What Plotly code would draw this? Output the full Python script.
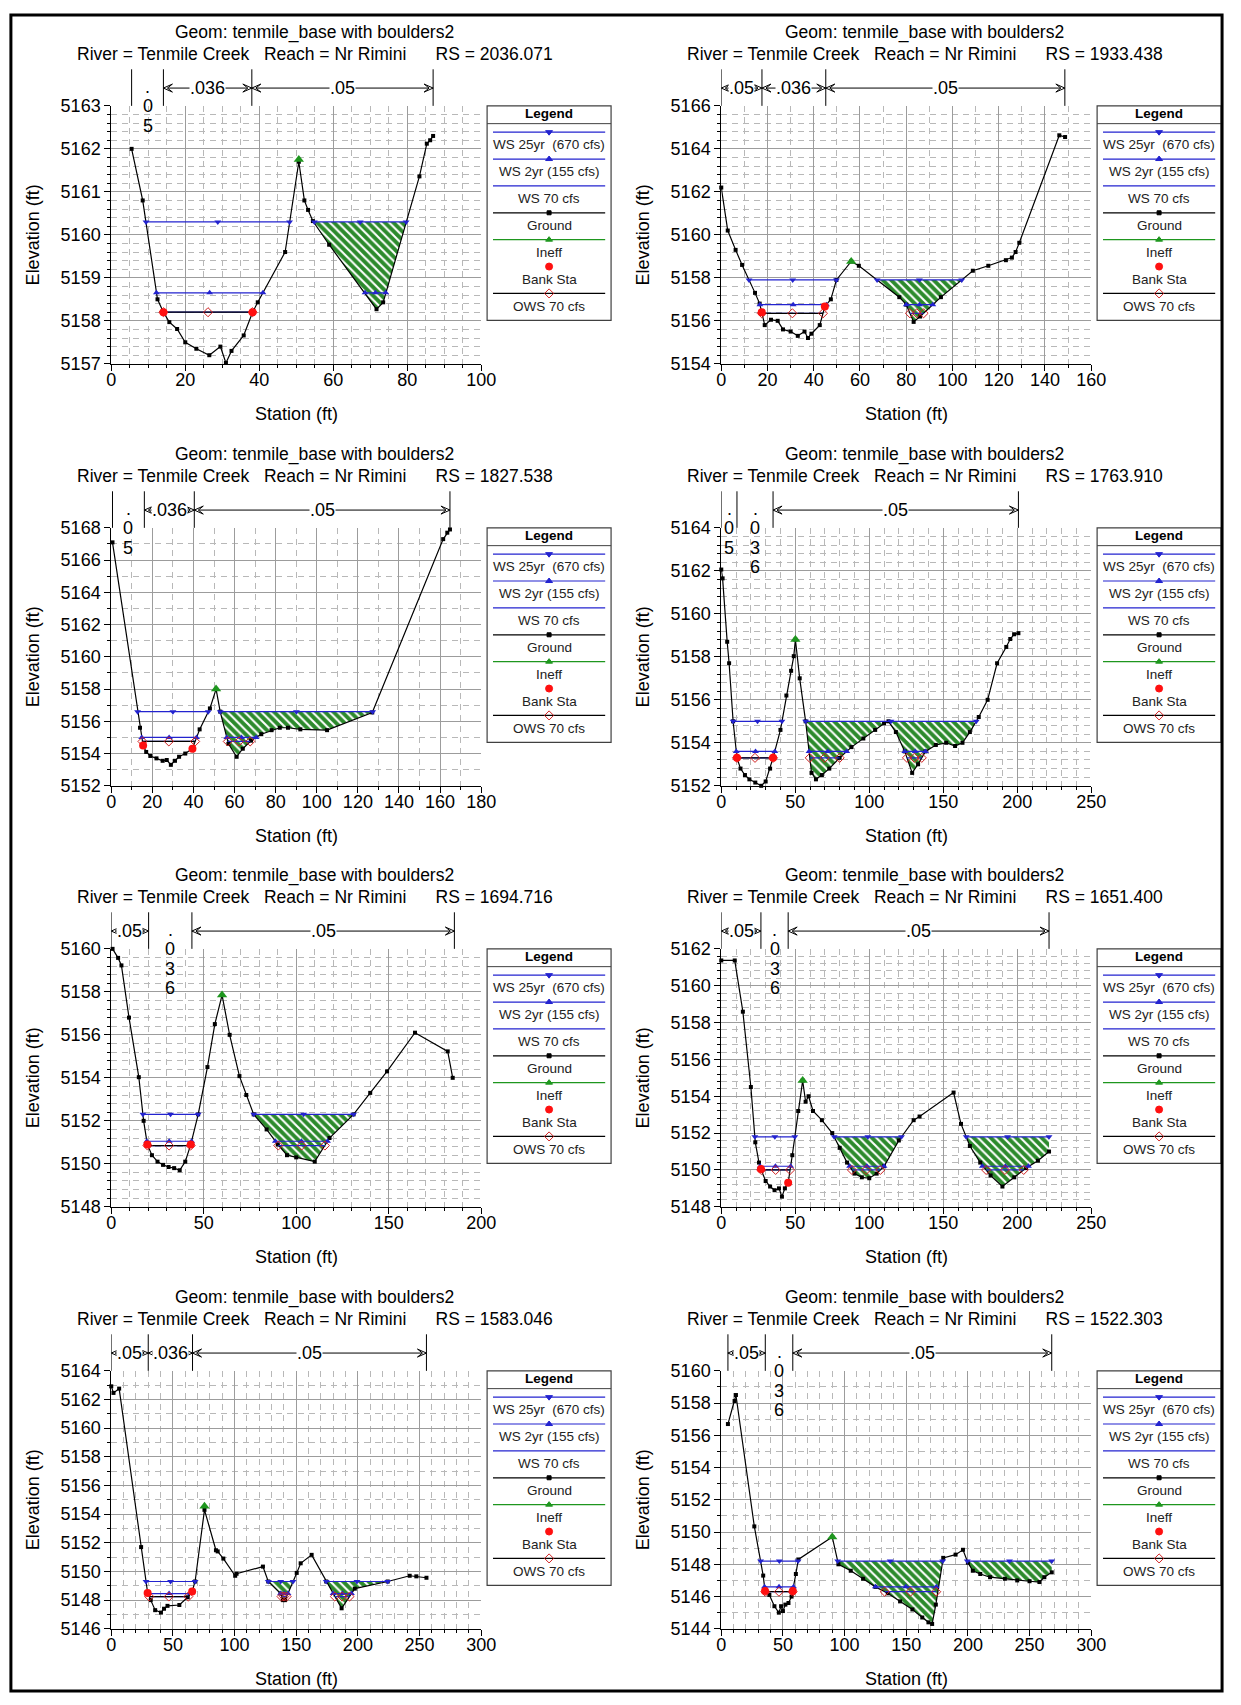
import numpy as np
import plotly.graph_objects as go

W, H = 1241, 1705
FONT = "Liberation Sans, Arial, sans-serif"

# ---------------- text ----------------
geom_title = "Geom: tenmile_base with boulders2"
river_name = "Tenmile Creek"
reach_name = "Nr Rimini"
rs_values = ["2036.071", "1933.438", "1827.538", "1763.910",
             "1694.716", "1651.400", "1583.046", "1522.303"]
legend_labels = ["WS 25yr\u00a0\u00a0(670 cfs)", "WS 2yr (155 cfs)", "WS 70 cfs",
                 "Ground", "Ineff", "Bank Sta", "OWS 70 cfs"]
n_values = [".05", ".036", ".05"]

# ---------------- axes ----------------
x_max = [100, 160, 180, 250, 200, 250, 300, 300]
x_dtick = [20, 20, 20, 50, 50, 50, 50, 50]
x_minor = [5, 10, 10, 10, 10, 10, 10, 10]
y_min = [5157, 5154, 5152, 5152, 5148, 5148, 5146, 5144]
y_max = [5163, 5166, 5168, 5164, 5160, 5162, 5164, 5160]
y_dtick = [1, 2, 2, 2, 2, 2, 2, 2]
y_minor = [0.2, 0.4, 1, 0.4, 0.4, 0.4, 1, 1]

# ---------------- RS 2036.071 ----------------
p1_sta = [5.5, 8.5, 12.5, 14.1, 15.7, 17.8, 20.0, 23.0, 26.5, 29.5, 31.0, 32.5, 35.8, 38.2, 39.6,
          47.0, 50.7, 52.2, 53.2, 54.5, 58.9, 71.7, 73.5, 83.3, 85.3, 86.2, 87.0]
p1_elev = [5162.0, 5160.8, 5158.5, 5158.2, 5157.97, 5157.81, 5157.5, 5157.35, 5157.2, 5157.4, 5157.02,
           5157.3, 5157.66, 5158.2, 5158.43, 5159.6, 5161.7, 5160.8, 5160.58, 5160.32, 5159.77,
           5158.27, 5158.43, 5161.36, 5162.12, 5162.2, 5162.3]
p1_ws = [5160.3, 5158.65, 5158.2]
p1_ws25_seg = [(9.4, 48.2), (54.9, 79.7)]
p1_ws2_seg = [(12.2, 41.0), (68.6, 74.2)]
p1_ws70_seg = [(14.1, 38.2)]
p1_ineff = [(50.7, 5161.75)]
p1_bank = [14.1, 38.2]
p1_fill = [(54.9, 79.7)]
p1_n_sta = [5.5, 14.1, 38.0, 87.0]

# ---------------- RS 1933.438 ----------------
p2_sta = [0.0, 2.8, 6.2, 9.0, 14.6, 16.6, 17.5, 18.8, 21.5, 24.4, 26.7, 30.0, 33.1, 36.0, 37.5, 39.0,
          42.6, 44.8, 47.4, 49.8, 56.2, 59.5, 77.0, 80.0, 83.2, 86.0, 95.0, 108.8, 115.5, 123.1, 125.7,
          127.3, 128.9, 146.2, 148.7]
p2_elev = [5162.2, 5160.2, 5159.3, 5158.6, 5157.3, 5156.8, 5156.4, 5155.8, 5156.05, 5156.0, 5155.6,
           5155.5, 5155.3, 5155.5, 5155.2, 5155.4, 5155.8, 5156.66, 5157.0, 5157.9, 5158.76, 5158.56,
           5157.1, 5156.75, 5155.95, 5156.2, 5157.1, 5158.33, 5158.56, 5158.82, 5158.94, 5159.2,
           5159.63, 5164.63, 5164.55]
p2_ws = [5157.9, 5156.75, 5156.35]
p2_ws25_seg = [(12.0, 49.8), (67.4, 104.0)]
p2_ws2_seg = [(16.7, 45.5), (80.0, 91.5)]
p2_ws70_seg = [(17.5, 44.0), (81.6, 87.5)]
p2_ineff = [(56.2, 5158.76)]
p2_bank = [17.5, 44.8]
p2_fill = [(67.4, 104.0)]
p2_n_sta = [0.0, 17.6, 45.2, 148.6]

# ---------------- RS 1827.538 ----------------
p3_sta = [0.6, 14.0, 15.5, 17.0, 19.0, 22.0, 25.0, 27.0, 29.0, 31.0, 33.0, 36.0, 39.5, 43.0, 48.0,
          51.0, 53.0, 57.0, 61.0, 64.0, 68.0, 73.0, 78.0, 82.0, 86.0, 92.0, 105.0, 127.0, 161.5,
          163.5, 164.8]
p3_elev = [5167.1, 5155.6, 5154.5, 5154.1, 5153.85, 5153.7, 5153.55, 5153.6, 5153.3, 5153.55, 5153.8,
           5154.0, 5154.3, 5155.5, 5156.8, 5158.0, 5156.6, 5154.6, 5153.8, 5154.3, 5154.8, 5155.2,
           5155.45, 5155.6, 5155.6, 5155.5, 5155.45, 5156.55, 5167.3, 5167.7, 5167.9]
p3_ws = [5156.6, 5155.0, 5154.75]
p3_ws25_seg = [(12.8, 47.2), (53.0, 127.2)]
p3_ws2_seg = [(14.8, 41.5), (56.2, 70.5)]
p3_ws70_seg = [(15.2, 40.8), (56.7, 67.6)]
p3_ineff = [(51.0, 5158.0)]
p3_bank = [15.5, 39.5]
p3_fill = [(53.0, 127.2)]
p3_n_sta = [0.6, 16.1, 40.4, 164.8]

# ---------------- RS 1763.910 ----------------
p4_sta = [0.0, 0.9, 4.0, 5.3, 8.0, 10.6, 13.0, 16.0, 19.0, 23.0, 27.0, 30.0, 33.0, 35.0, 40.0, 44.0,
          47.2, 49.0, 50.1, 53.0, 57.0, 61.0, 64.0, 68.0, 73.0, 80.0, 88.0, 96.0, 104.0, 110.0, 113.0,
          118.0, 124.0, 129.0, 133.0, 138.0, 145.0, 152.0, 158.0, 163.0, 168.0, 174.0, 180.0, 186.4,
          192.6, 195.3, 197.9, 200.8]
p4_elev = [5162.06, 5161.65, 5158.7, 5157.7, 5155.0, 5153.3, 5152.8, 5152.5, 5152.3, 5152.15, 5152.0,
           5152.2, 5152.8, 5153.3, 5154.6, 5156.2, 5157.35, 5158.03, 5158.8, 5157.0, 5155.0, 5152.6,
           5152.3, 5152.5, 5152.8, 5153.3, 5153.8, 5154.2, 5154.6, 5154.9, 5155.0, 5154.5, 5153.6,
           5152.6, 5153.0, 5153.6, 5153.9, 5154.0, 5153.85, 5154.0, 5154.5, 5155.2, 5156.0, 5157.7,
           5158.46, 5158.83, 5159.05, 5159.1]
p4_ws = [5155.0, 5153.6, 5153.3]
p4_ws25_seg = [(8.0, 41.0), (57.0, 172.3)]
p4_ws2_seg = [(10.1, 36.2), (59.3, 84.8), (124.0, 138.0)]
p4_ws70_seg = [(10.6, 35.0), (59.8, 80.0), (125.5, 135.5)]
p4_ineff = [(50.1, 5158.8)]
p4_bank = [10.6, 35.0]
p4_fill = [(57.0, 172.3)]
p4_n_sta = [0.0, 10.6, 35.0, 200.8]

# ---------------- RS 1694.716 ----------------
p5_sta = [0.7, 3.7, 5.5, 9.6, 14.9, 17.5, 19.5, 22.0, 25.0, 28.0, 31.0, 34.0, 37.0, 40.0, 43.0, 47.0,
          52.0, 56.0, 59.9, 64.0, 69.3, 73.0, 77.0, 84.0, 90.0, 95.0, 100.0, 110.0, 118.0, 131.0,
          140.0, 149.1, 164.2, 181.9, 184.6]
p5_elev = [5160.0, 5159.58, 5159.23, 5156.8, 5154.03, 5152.0, 5150.9, 5150.4, 5150.1, 5149.95,
           5149.85, 5149.8, 5149.7, 5150.1, 5150.9, 5152.3, 5154.5, 5156.5, 5157.85, 5156.0, 5154.08,
           5153.2, 5152.3, 5151.6, 5150.9, 5150.4, 5150.3, 5150.1, 5151.2, 5152.3, 5153.3, 5154.3,
           5156.1, 5155.23, 5154.0]
p5_ws = [5152.3, 5151.05, 5150.85]
p5_ws25_seg = [(17.1, 47.0), (77.0, 131.0)]
p5_ws2_seg = [(19.2, 43.4), (88.7, 116.9)]
p5_ws70_seg = [(19.6, 42.9), (90.3, 115.5)]
p5_ineff = [(59.9, 5157.85)]
p5_bank = [19.5, 43.0]
p5_fill = [(77.0, 131.0)]
p5_n_sta = [0.0, 20.2, 43.6, 185.5]

# ---------------- RS 1651.400 ----------------
p6_sta = [0.0, 9.1, 14.6, 20.0, 23.0, 25.5, 27.0, 30.0, 33.0, 36.0, 39.0, 41.0, 43.0, 45.2, 48.0,
          52.0, 55.0, 57.0, 59.0, 62.0, 68.0, 75.0, 80.0, 85.0, 90.0, 95.0, 100.0, 105.0, 110.0,
          120.0, 130.0, 134.0, 157.0, 162.0, 168.0, 175.0, 182.0, 190.0, 198.0, 206.0, 214.0, 221.5]
p6_elev = [5161.37, 5161.37, 5158.59, 5154.5, 5151.5, 5150.4, 5150.0, 5149.4, 5149.1, 5148.9,
           5149.0, 5148.55, 5149.0, 5149.3, 5150.8, 5153.2, 5154.85, 5153.7, 5154.0, 5153.2, 5152.7,
           5152.0, 5151.2, 5150.4, 5149.8, 5149.6, 5149.55, 5149.8, 5150.2, 5151.6, 5152.7, 5152.9,
           5154.2, 5152.5, 5151.3, 5150.4, 5149.7, 5149.1, 5149.6, 5150.1, 5150.5, 5151.0]
p6_ws = [5151.8, 5150.2, 5150.0]
p6_ws25_seg = [(22.7, 49.7), (76.3, 121.8), (165.5, 221.5)]
p6_ws2_seg = [(26.3, 46.9), (86.7, 110.0), (176.4, 207.6)]
p6_ws70_seg = [(27.0, 46.5), (88.3, 107.5), (179.0, 204.4)]
p6_ineff = [(55.0, 5154.85)]
p6_bank = [26.8, 45.2]
p6_fill = [(76.3, 121.8), (165.5, 221.5)]
p6_n_sta = [0.0, 26.8, 45.2, 221.5]

# ---------------- RS 1583.046 ----------------
p7_sta = [0.0, 1.8, 6.4, 24.2, 29.5, 32.0, 35.6, 40.3, 42.8, 45.6, 55.2, 62.0, 65.6, 68.0, 75.6,
          84.9, 86.3, 90.9, 100.5, 101.6, 123.0, 127.3, 137.3, 139.1, 141.0, 150.4, 153.6, 162.5,
          174.3, 186.8, 197.5, 224.2, 242.0, 247.4, 255.6]
p7_elev = [5162.92, 5162.46, 5162.76, 5151.7, 5148.5, 5148.0, 5147.3, 5147.13, 5147.4, 5147.6,
           5147.66, 5148.2, 5148.6, 5149.3, 5154.3, 5151.48, 5151.4, 5150.9, 5149.7, 5149.84,
           5150.34, 5149.3, 5148.46, 5148.0, 5148.0, 5149.9, 5150.57, 5151.16, 5149.3, 5147.43,
           5148.8, 5149.3, 5149.7, 5149.66, 5149.56]
p7_ws = [5149.3, 5148.46, 5148.25]
p7_ws25_seg = [(28.2, 68.0), (127.3, 147.4), (174.3, 224.2)]
p7_ws2_seg = [(29.5, 64.3), (137.3, 143.3), (179.9, 194.8)]
p7_ws70_seg = [(30.8, 62.5), (138.1, 142.2), (181.3, 193.2)]
p7_ineff = [(75.6, 5154.55)]
p7_bank = [29.5, 65.6]
p7_fill = [(127.3, 147.4), (174.3, 224.2)]
p7_n_sta = [0.0, 30.0, 65.9, 255.6]

# ---------------- RS 1522.303 ----------------
p8_sta = [5.4, 10.8, 11.9, 26.8, 34.0, 35.5, 39.0, 43.1, 46.7, 48.5, 50.0, 52.0, 54.5, 57.0, 58.0,
          60.5, 62.5, 90.0, 95.0, 105.0, 115.0, 125.0, 135.0, 145.0, 155.0, 163.0, 168.0, 171.0,
          174.0, 180.0, 190.0, 196.0, 200.0, 204.0, 210.0, 218.0, 230.0, 240.0, 250.0, 258.0,
          262.0, 268.0]
p8_elev = [5156.7, 5158.13, 5158.5, 5150.35, 5147.3, 5146.35, 5146.1, 5145.4, 5145.0, 5145.4,
           5145.1, 5145.5, 5145.6, 5146.0, 5146.35, 5147.4, 5148.3, 5149.7, 5148.0, 5147.6, 5147.1,
           5146.6, 5146.2, 5145.7, 5145.2, 5144.7, 5144.4, 5144.3, 5145.5, 5148.4, 5148.6, 5148.9,
           5148.1, 5147.6, 5147.4, 5147.2, 5147.1, 5147.0, 5146.95, 5146.9, 5147.2, 5147.5]
p8_ws = [5148.2, 5146.6, 5146.3]
p8_ws25_seg = [(31.9, 62.3), (94.4, 179.6), (199.5, 268.0)]
p8_ws2_seg = [(35.1, 58.6), (125.0, 174.4)]
p8_ws70_seg = [(35.7, 57.9), (132.5, 174.3)]
p8_ineff = [(90.0, 5149.7)]
p8_bank = [35.5, 58.0]
p8_fill = [(94.4, 179.6), (199.5, 268.0)]
p8_n_sta = [5.4, 35.7, 58.0, 268.0]

panels = [
    dict(sta=p1_sta, elev=p1_elev, ws=p1_ws, segs=[p1_ws25_seg, p1_ws2_seg, p1_ws70_seg],
         ineff=p1_ineff, bank=p1_bank, fill=p1_fill, n_sta=p1_n_sta),
    dict(sta=p2_sta, elev=p2_elev, ws=p2_ws, segs=[p2_ws25_seg, p2_ws2_seg, p2_ws70_seg],
         ineff=p2_ineff, bank=p2_bank, fill=p2_fill, n_sta=p2_n_sta),
    dict(sta=p3_sta, elev=p3_elev, ws=p3_ws, segs=[p3_ws25_seg, p3_ws2_seg, p3_ws70_seg],
         ineff=p3_ineff, bank=p3_bank, fill=p3_fill, n_sta=p3_n_sta),
    dict(sta=p4_sta, elev=p4_elev, ws=p4_ws, segs=[p4_ws25_seg, p4_ws2_seg, p4_ws70_seg],
         ineff=p4_ineff, bank=p4_bank, fill=p4_fill, n_sta=p4_n_sta),
    dict(sta=p5_sta, elev=p5_elev, ws=p5_ws, segs=[p5_ws25_seg, p5_ws2_seg, p5_ws70_seg],
         ineff=p5_ineff, bank=p5_bank, fill=p5_fill, n_sta=p5_n_sta),
    dict(sta=p6_sta, elev=p6_elev, ws=p6_ws, segs=[p6_ws25_seg, p6_ws2_seg, p6_ws70_seg],
         ineff=p6_ineff, bank=p6_bank, fill=p6_fill, n_sta=p6_n_sta),
    dict(sta=p7_sta, elev=p7_elev, ws=p7_ws, segs=[p7_ws25_seg, p7_ws2_seg, p7_ws70_seg],
         ineff=p7_ineff, bank=p7_bank, fill=p7_fill, n_sta=p7_n_sta),
    dict(sta=p8_sta, elev=p8_elev, ws=p8_ws, segs=[p8_ws25_seg, p8_ws2_seg, p8_ws70_seg],
         ineff=p8_ineff, bank=p8_bank, fill=p8_fill, n_sta=p8_n_sta),
]

# ---------------- styling / layout constants (pixels) ----------------
BLUE = "#2323cf"
GREEN = "#1e961e"
HATCH_GREEN = "#2c8a2c"
RED = "#ff1010"
OWS_RED = "#d02020"
GRID = "#9c9c9c"
GRID_MINOR = "#b8b8b8"

COL = 620
ROWS = [0, 427, 853, 1280]
PL, PR, PT, PB = 108, 484, 97, 358
LL, LR, LT, LB = 490, 616, 97, 314
NT, NY = 60, 79
STATION_Y = 409


def fx(px):
    return px / W


def fy(py):
    return 1 - py / H


def axkey(i, letter):
    return f"{letter}axis" if i == 1 else f"{letter}axis{i}"


def aref(i, letter):
    return letter if i == 1 else f"{letter}{i}"


def seg_xy(segs, level, with_mid=True):
    xs, ys = [], []
    for a, b in segs:
        pts = [a, (a + b) / 2, b] if with_mid else [a, b]
        xs += pts + [None]
        ys += [level] * len(pts) + [None]
    return xs, ys


def note(**kw):
    base = dict(showarrow=False, xanchor="center", yanchor="middle")
    base.update(kw)
    return base


fig = go.Figure()
layout = dict(width=W, height=H, margin=dict(l=0, r=0, t=0, b=0),
              paper_bgcolor="white", plot_bgcolor="white", showlegend=False,
              hovermode=False)
shapes, annotations = [], []
tf = dict(family=FONT, size=18, color="black")

for p, d in enumerate(panels):
    r, c = divmod(p, 2)
    o = ROWS[r]
    cx = c * COL
    m = p + 1
    L = p + 9
    xa, ya = aref(m, "x"), aref(m, "y")
    xl, yl = aref(L, "x"), aref(L, "y")

    common = dict(showline=True, linecolor="black", linewidth=1, zeroline=False,
                  ticks="outside", ticklen=6, tickcolor="black", tickfont=tf,
                  showgrid=True, gridcolor=GRID, gridwidth=1, fixedrange=True)
    layout[axkey(m, "x")] = dict(
        domain=[fx(PL + cx), fx(PR + cx)], range=[0, x_max[p]], anchor=ya,
        tick0=0, dtick=x_dtick[p], ticklabelstandoff=-6,
        minor=dict(tick0=0, dtick=x_minor[p], showgrid=True, gridcolor=GRID_MINOR,
                   griddash="6px,5px", ticks="outside", ticklen=3, tickcolor="black"),
        **common)
    layout[axkey(m, "y")] = dict(
        domain=[fy(PB + o), fy(PT + o)], range=[y_min[p], y_max[p]], anchor=xa,
        tick0=y_min[p], dtick=y_dtick[p],
        minor=dict(tick0=y_min[p], dtick=y_minor[p], showgrid=True, gridcolor=GRID_MINOR,
                   griddash="6px,5px", ticks="outside", ticklen=3, tickcolor="black"),
        **common)
    # legend axes
    layout[axkey(L, "x")] = dict(domain=[fx(LL + cx), fx(LR + cx)], range=[0, LR - LL],
                                 anchor=yl, visible=False, fixedrange=True)
    layout[axkey(L, "y")] = dict(domain=[fy(LB + o), fy(LT + o)], range=[LB - LT, 0],
                                 anchor=xl, visible=False, fixedrange=True)

    sta = np.array(d["sta"], dtype=float)
    elev = np.array(d["elev"], dtype=float)
    ws25, ws2, ws70 = d["ws"]

    # ineffective flow areas (hatched)
    fxs, fys = [], []
    for a, b in d["fill"]:
        inner = [s for s in sta if a < s < b]
        xs = [a] + inner + [b]
        ys = list(np.minimum(np.interp(xs, sta, elev), ws25))
        fxs += xs + [b, a, None]
        fys += ys + [ws25, ws25, None]
    fig.add_trace(go.Scatter(
        x=fxs, y=fys, xaxis=xa, yaxis=ya, mode="lines", fill="toself",
        fillcolor=HATCH_GREEN, line=dict(width=0, color=HATCH_GREEN),
        fillpattern=dict(shape="\\", bgcolor=HATCH_GREEN, fgcolor="white",
                         fgopacity=1, size=6, solidity=0.35)))

    # ground
    fig.add_trace(go.Scatter(x=sta, y=elev, xaxis=xa, yaxis=ya, mode="lines+markers",
                             line=dict(color="black", width=1.2),
                             marker=dict(symbol="square", size=4, color="black"),
                             cliponaxis=False))
    # water surfaces
    sx, sy = seg_xy(d["segs"][2], ws70, with_mid=False)
    fig.add_trace(go.Scatter(x=sx, y=sy, xaxis=xa, yaxis=ya, mode="lines",
                             line=dict(color=BLUE, width=1.2)))
    sx, sy = seg_xy(d["segs"][1], ws2)
    fig.add_trace(go.Scatter(x=sx, y=sy, xaxis=xa, yaxis=ya, mode="lines+markers",
                             line=dict(color=BLUE, width=1.2),
                             marker=dict(symbol="triangle-up", size=6, color=BLUE)))
    sx, sy = seg_xy(d["segs"][0], ws25)
    fig.add_trace(go.Scatter(x=sx, y=sy, xaxis=xa, yaxis=ya, mode="lines+markers",
                             line=dict(color=BLUE, width=1.2),
                             marker=dict(symbol="triangle-down", size=6, color=BLUE)))
    # observed WS 70 cfs in main channel
    sx, sy = seg_xy(d["segs"][2][:1], ws70, with_mid=False)
    fig.add_trace(go.Scatter(x=sx, y=sy, xaxis=xa, yaxis=ya, mode="lines",
                             line=dict(color="black", width=1.2)))
    ox, oy = seg_xy(d["segs"][2], ws70)
    fig.add_trace(go.Scatter(x=ox, y=oy, xaxis=xa, yaxis=ya, mode="markers",
                             marker=dict(symbol="diamond-open", size=7, color=OWS_RED,
                                         line=dict(width=1))))
    # ineffective markers
    fig.add_trace(go.Scatter(x=[q[0] for q in d["ineff"]], y=[q[1] for q in d["ineff"]],
                             xaxis=xa, yaxis=ya, mode="markers", cliponaxis=False,
                             marker=dict(symbol="triangle-up", size=9, color=GREEN)))
    # bank stations
    bk = np.array(d["bank"], dtype=float)
    fig.add_trace(go.Scatter(x=bk, y=np.interp(bk, sta, elev), xaxis=xa, yaxis=ya,
                             mode="markers", cliponaxis=False,
                             marker=dict(symbol="circle", size=8, color=RED)))

    # ---- Manning's n bar ----
    ns = d["n_sta"]
    for s in ns:
        shapes.append(dict(type="line", xref=xa, yref="paper", x0=s, x1=s,
                           y0=fy(NT + o), y1=fy(PT + o), line=dict(color="black", width=1)))
    for j, lab in enumerate(n_values):
        a, b = ns[j], ns[j + 1]
        px_w = (b - a) / x_max[p] * (PR - PL)
        mid = (a + b) / 2
        if px_w >= 11 * len(lab):
            shapes.append(dict(type="line", xref=xa, yref="paper", x0=a, x1=b,
                               y0=fy(NY + o), y1=fy(NY + o), line=dict(color="black", width=1)))
            shapes.append(dict(type="path", xref=xa, yref="paper", xsizemode="pixel",
                               ysizemode="pixel", xanchor=a, yanchor=fy(NY + o),
                               path="M 9,4 L 0,0 L 9,-4 L 4,0 Z",
                               line=dict(color="black", width=1), fillcolor="white"))
            shapes.append(dict(type="path", xref=xa, yref="paper", xsizemode="pixel",
                               ysizemode="pixel", xanchor=b, yanchor=fy(NY + o),
                               path="M -9,4 L 0,0 L -9,-4 L -4,0 Z",
                               line=dict(color="black", width=1), fillcolor="white"))
            annotations.append(note(xref=xa, yref="paper", x=mid, y=fy(NY + o), text=lab,
                                    font=tf, bgcolor="white", borderpad=0))
        else:
            for k, ch in enumerate(lab):
                annotations.append(note(xref=xa, yref="paper", x=mid,
                                        y=fy(78 + 19.5 * k + o), text=ch, font=tf))

    # ---- titles ----
    annotations.append(note(xref="paper", yref="paper", x=fx(315 + cx), y=fy(23 + o),
                            text=geom_title, font=dict(family=FONT, size=17.5, color="black")))
    sp = "\u00a0"
    sub = f"River = {river_name}{sp*3}Reach = {reach_name}{sp*6}RS = {rs_values[p]}"
    annotations.append(note(xref="paper", yref="paper", x=fx(315 + cx), y=fy(45 + o),
                            text=sub, font=dict(family=FONT, size=17.5, color="black")))
    annotations.append(note(xref="paper", yref="paper", x=fx((PL + PR) / 2 + cx),
                            y=fy(STATION_Y + o), text="Station (ft)", font=tf))
    annotations.append(note(xref="paper", yref="paper", x=fx(28 + cx),
                            y=fy((PT + PB) / 2 + o), text="Elevation (ft)", textangle=-90,
                            font=tf))

    # ---- legend box ----
    shapes.append(dict(type="rect", xref="paper", yref="paper", x0=fx(LL + cx), x1=fx(LR + cx),
                       y0=fy(LB + o), y1=fy(LT + o), line=dict(color="#404040", width=1.2)))
    shapes.append(dict(type="line", xref="paper", yref="paper", x0=fx(LL + cx), x1=fx(LR + cx),
                       y0=fy(LT + 18 + o), y1=fy(LT + 18 + o),
                       line=dict(color="#404040", width=1)))
    annotations.append(note(xref=xl, yref=yl, x=(LR - LL) / 2, y=8, text="<b>Legend</b>",
                            font=dict(family=FONT, size=13.5, color="black")))
    styles = [
        (BLUE, "triangle-down", BLUE, True),
        (BLUE, "triangle-up", BLUE, True),
        (BLUE, None, None, True),
        ("black", "square", "black", True),
        (GREEN, "triangle-up", GREEN, True),
        (None, "circle", RED, False),
        ("black", "diamond-open", OWS_RED, True),
    ]
    cxl = (LR - LL) / 2
    for k, (lc, sym, mc, has_line) in enumerate(styles):
        yk = 26.6 + 27.2 * k
        if has_line:
            fig.add_trace(go.Scatter(x=[6, LR - LL - 6], y=[yk, yk], xaxis=xl, yaxis=yl,
                                     mode="lines", line=dict(color=lc, width=1.2)))
        if sym:
            size = {"circle": 7, "square": 4, "diamond-open": 7}.get(sym, 6)
            fig.add_trace(go.Scatter(x=[cxl], y=[yk], xaxis=xl, yaxis=yl, mode="markers",
                                     cliponaxis=False,
                                     marker=dict(symbol=sym, size=size, color=mc,
                                                 line=dict(width=1, color=mc))))
        annotations.append(note(xref=xl, yref=yl, x=cxl, y=39.5 + 27.2 * k,
                                text=legend_labels[k],
                                font=dict(family=FONT, size=13.5, color="#222222")))

# outer frame
shapes.append(dict(type="rect", xref="paper", yref="paper", x0=fx(6), x1=fx(1237),
                   y0=fy(1701), y1=fy(5), line=dict(color="black", width=3)))

layout["shapes"] = shapes
layout["annotations"] = annotations
fig.update_layout(**layout)
fig.write_html("out.html")
